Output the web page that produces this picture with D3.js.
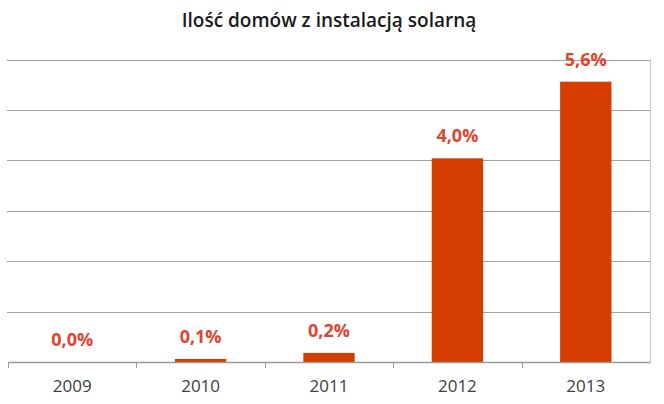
<!DOCTYPE html>
<html>
<head>
<meta charset="utf-8">
<script src="https://cdn.jsdelivr.net/npm/d3@7"></script>
<style>
  html, body { margin: 0; padding: 0; background: #fff; }
  svg { display: block; }
</style>
</head>
<body>
<svg id="chart" width="664" height="404"></svg>
<script>
// ---- data ----
const title = "Ilość domów z instalacją solarną";
const years = ["2009", "2010", "2011", "2012", "2013"];
const shares = [0.0, 0.06, 0.18, 4.04, 5.56];   // % of homes
const yTicks = [0, 1, 2, 3, 4, 5, 6];

// ---- layout ----
const W = 664, H = 404;
const plot = { left: 8, right: 650, top: 59.5, bottom: 362 };

const svg = d3.select("#chart");

const defs = svg.append("defs");
const blur = defs.append("filter").attr("id", "sh")
  .attr("x", "-50%").attr("y", "-50%").attr("width", "200%").attr("height", "200%");
blur.append("feGaussianBlur").attr("stdDeviation", 1.2);

const x = d3.scaleBand().domain(years)
  .range([plot.left, plot.right]).paddingInner(0.6).paddingOuter(0.3);
const y = d3.scaleLinear().domain([0, 6]).range([plot.bottom, plot.top]);

// title
svg.append("text")
  .attr("x", 329).attr("y", 27)
  .attr("text-anchor", "middle")
  .attr("font-family", "'Open Sans', sans-serif")
  .attr("font-size", 19).attr("font-weight", 600)
  .attr("fill", "#1a1a1a")
  .text(title);

// gridlines
svg.append("g").selectAll("line")
  .data(yTicks.filter(d => d > 0))
  .join("line")
  .attr("x1", plot.left - 1).attr("x2", plot.right)
  .attr("y1", d => Math.round(y(d)) + 0.5).attr("y2", d => Math.round(y(d)) + 0.5)
  .attr("stroke", "#a3a3a3").attr("stroke-width", 1.2);

// right edge shadow of plot area
svg.append("line")
  .attr("x1", plot.right + 2.5).attr("x2", plot.right + 2.5)
  .attr("y1", plot.top + 3).attr("y2", plot.bottom + 4)
  .attr("stroke", "#8a8a8a").attr("stroke-width", 2.5).attr("filter", "url(#sh)");
svg.append("line")
  .attr("x1", plot.right + 0.5).attr("x2", plot.right + 0.5)
  .attr("y1", plot.top).attr("y2", plot.bottom)
  .attr("stroke", "#c8c8c8").attr("stroke-width", 1);

// bars
svg.append("g").selectAll("rect")
  .data(years.map((yr, i) => ({ yr, v: shares[i] })))
  .join("rect")
  .attr("x", d => x(d.yr))
  .attr("width", x.bandwidth())
  .attr("y", d => y(d.v))
  .attr("height", d => y(0) - y(d.v))
  .attr("fill", "#d63d00");

// x axis (baseline with shadow + ticks)
svg.append("line")
  .attr("x1", plot.left).attr("x2", plot.right + 2)
  .attr("y1", plot.bottom + 2.5).attr("y2", plot.bottom + 2.5)
  .attr("stroke", "#8c8c8c").attr("stroke-width", 3).attr("filter", "url(#sh)");
const xAxis = d3.axisBottom(x).tickSize(0).tickPadding(0);
const gx = svg.append("g").attr("transform", `translate(0,${plot.bottom})`).call(xAxis);
gx.select(".domain").attr("stroke", "#9a9a9a").attr("stroke-width", 1.5);
gx.selectAll("text")
  .attr("y", 30)
  .attr("dy", 0)
  .attr("font-family", "'Open Sans', sans-serif")
  .attr("font-size", 17)
  .attr("fill", "#404040");
// category boundary ticks
const bounds = years.map((yr, i) => x(yr) - x.step() * x.paddingOuter());
svg.append("g").selectAll("line")
  .data(bounds)
  .join("line")
  .attr("x1", d => Math.round(d) + 0.5).attr("x2", d => Math.round(d) + 0.5)
  .attr("y1", plot.bottom).attr("y2", plot.bottom + 6)
  .attr("stroke", "#9a9a9a").attr("stroke-width", 1);

// value labels
const fmt = v => d3.format(".1f")(v).replace(".", ",") + "%";
svg.append("g").selectAll("text")
  .data(years.map((yr, i) => ({ yr, v: shares[i] })))
  .join("text")
  .attr("x", d => x(d.yr) + x.bandwidth() / 2)
  .attr("y", d => y(d.v) - 16)
  .attr("text-anchor", "middle")
  .attr("font-family", "'Open Sans', sans-serif")
  .attr("font-size", 18).attr("font-weight", 700)
  .attr("fill", "#e0442f")
  .text(d => fmt(d.v));
</script>
</body>
</html>
